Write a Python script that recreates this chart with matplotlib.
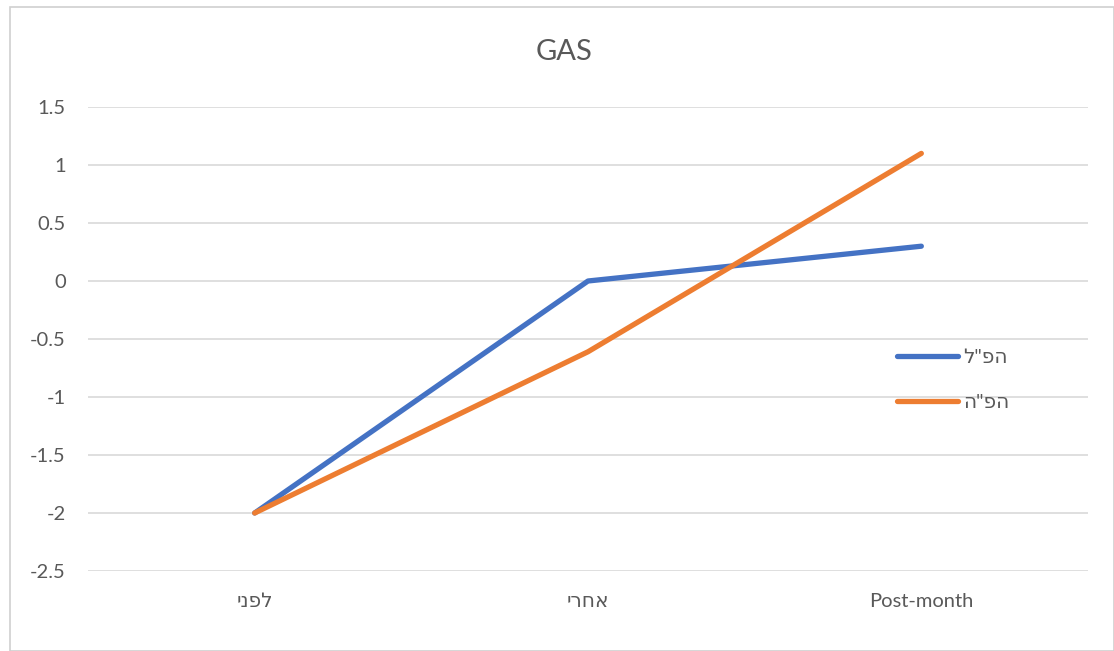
import matplotlib
matplotlib.use("Agg")
import matplotlib.pyplot as plt
from matplotlib.patches import Rectangle

categories = ["לפני", "אחרי", "Post-month"]
series_names = ['הפ"ל', 'הפ"ה']
series_values = [
    [-2.0, 0.0, 0.30],
    [-2.0, -0.61, 1.10],
]
colors = ["#4472C4", "#ED7D31"]
yticks = [1.5, 1, 0.5, 0, -0.5, -1, -1.5, -2, -2.5]

def vis(s):
    # matplotlib has no bidi: reverse Hebrew strings for display
    if any('\u0590' <= c <= '\u05FF' for c in s):
        return s[::-1]
    return s

plt.rcParams['font.family'] = ['Lato', 'DejaVu Sans']

fig = plt.figure(figsize=(11.14, 6.51), dpi=100)
fig.patches.append(Rectangle((10/1114, 0), 1 - 10/1114, 1 - 7/651, transform=fig.transFigure,
                             fill=False, edgecolor="#d0d0d0", linewidth=1.2))
ax = fig.add_axes([88/1114, 1 - 571/651, 1000/1114, 464/651])

x = list(range(len(categories)))
for name, vals, c in zip(series_names, series_values, colors):
    ax.plot(x, vals, color=c, linewidth=3.8, solid_capstyle='round', label=vis(name), zorder=3)

ax.set_xlim(-0.5, len(categories) - 0.5)
ax.set_ylim(-2.5, 1.5)
ax.set_yticks(yticks)
ax.set_yticklabels([f"{v:g}" for v in yticks])
ax.set_xticks(x)
ax.set_xticklabels([vis(c) for c in categories])
ax.grid(axis='y', color="#d9d9d9", linewidth=1.2, zorder=0)
for s in ax.spines.values():
    s.set_visible(False)
ax.tick_params(axis='both', length=0, labelsize=14.5, colors="#595959")
ax.tick_params(axis='y', pad=16)
ax.tick_params(axis='x', pad=16)

fig.text(564/1114, 1 - 52/651, "GAS", ha='center', va='center', fontsize=21, color="#595959")

leg = ax.legend(loc='center left', bbox_to_anchor=(879/1114, 1 - 380/651),
                bbox_transform=fig.transFigure, frameon=False, fontsize=14.5,
                handlelength=3.0, labelspacing=1.35, handletextpad=0.3)
for t in leg.get_texts():
    t.set_color("#595959")

fig.savefig("out.png", dpi=100)
